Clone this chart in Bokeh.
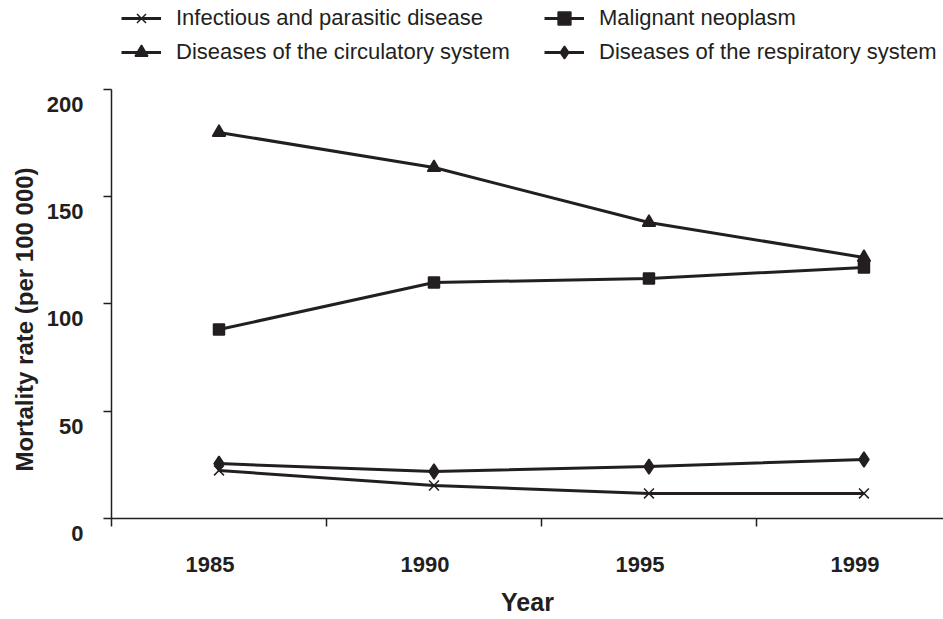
from bokeh.plotting import figure
from bokeh.models import FixedTicker, Legend, LegendItem, Range1d
from bokeh.embed import file_html
from bokeh.resources import INLINE

years = ["1985", "1990", "1995", "1999"]
infectious = [22.4, 15.4, 11.7, 11.7]
malignant = [88.1, 110.0, 111.9, 117.0]
circulatory = [180.0, 163.6, 138.0, 121.7]
respiratory = [25.6, 21.9, 24.2, 27.5]
y_ticks = [0, 50, 100, 150, 200]

xs = [i + 0.5 for i in range(len(years))]
label_pos = [round(x - 0.042, 3) for x in xs]
INK = "#231f20"
FONT = "Liberation Sans"

names = ["Infectious and parasitic disease", "Malignant neoplasm",
         "Diseases of the circulatory system", "Diseases of the respiratory system"]
values = [infectious, malignant, circulatory, respiratory]
markers = [("x", 14), ("square", 11), ("triangle", 13), ("diamond", 15)]

# frame spans from the very top of the figure; the y axis is drawn only over 0..200
p = figure(frame_width=832, frame_height=518, output_backend="svg",
           toolbar_location=None, title=None,
           x_range=Range1d(0, 3.87), y_range=Range1d(0, 241.49),
           min_border_left=111, min_border_top=0, min_border_bottom=95,
           min_border_right=0)
p.outline_line_color = None
p.xgrid.visible = False
p.ygrid.visible = False

items = []
for name, vals, (mk, sz) in zip(names, values, markers):
    l = p.line(xs, vals, line_color=INK, line_width=3)
    s = p.scatter(xs, vals, marker=mk, size=sz, fill_color=INK,
                  line_color=INK, line_width=1.5)
    items.append(LegendItem(label=name, renderers=[l, s]))

xa = p.xaxis[0]
xa.ticker = FixedTicker(ticks=label_pos, minor_ticks=[0, 1, 2, 3])
xa.major_label_overrides = {x: y for x, y in zip(label_pos, years)}
xa.major_tick_out = 0
xa.major_tick_in = 0
xa.minor_tick_out = 8
xa.minor_tick_in = 0
xa.minor_tick_line_color = INK
xa.minor_tick_line_width = 1.5
xa.axis_line_color = INK
xa.axis_line_width = 1.5
xa.major_label_standoff = 30
xa.major_label_text_font = FONT
xa.major_label_text_font_style = "bold"
xa.major_label_text_font_size = "22px"
xa.major_label_text_color = INK
xa.axis_label = "Year"
xa.axis_label_text_font = FONT
xa.axis_label_text_font_style = "bold"
xa.axis_label_text_font_size = "25px"
xa.axis_label_text_color = INK
xa.axis_label_standoff = 13

ya = p.yaxis[0]
ya.bounds = (0, 200)
ya.ticker = FixedTicker(ticks=y_ticks)
ya.major_label_overrides = {v: "\n" + str(v) for v in y_ticks}
ya.major_tick_out = 8
ya.major_tick_in = 0
ya.minor_tick_out = 0
ya.minor_tick_in = 0
ya.axis_line_color = INK
ya.axis_line_width = 1.5
ya.major_tick_line_color = INK
ya.major_tick_line_width = 1.5
ya.major_label_standoff = 20
ya.major_label_text_font = FONT
ya.major_label_text_font_style = "bold"
ya.major_label_text_font_size = "22px"
ya.major_label_text_color = INK
# trailing no-break spaces keep the title centred on the 0..200 part of the axis
ya.axis_label = "Mortality rate (per 100 000)" + "\u00a0" * 18
ya.axis_label_text_font = FONT
ya.axis_label_text_font_style = "bold"
ya.axis_label_text_font_size = "24px"
ya.axis_label_text_color = INK
ya.axis_label_standoff = 6

common = dict(padding=0, margin=0, border_line_color=None,
              background_fill_alpha=0, glyph_width=40, glyph_height=32,
              label_height=32, label_standoff=15, spacing=2,
              label_text_font=FONT, label_text_font_size="22px",
              label_text_color=INK, orientation="vertical")
leg1 = Legend(items=[items[0], items[2]], location=(10, 450), **common)
leg2 = Legend(items=[items[1], items[3]], location=(433, 450), **common)
p.add_layout(leg1, "center")
p.add_layout(leg2, "center")

open("out.html", "w").write(file_html(p, INLINE))
